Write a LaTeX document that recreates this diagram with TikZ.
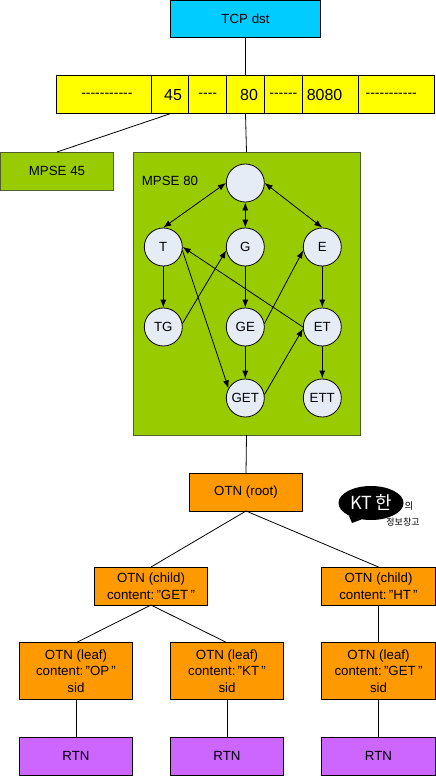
\documentclass[tikz,border=0pt]{standalone}
\usepackage{fontspec}
\setmainfont{Liberation Sans}
\newfontfamily\hyphenfont{Liberation Sans}
\newfontfamily\cjk{Noto Sans CJK KR}
\usepackage{xcolor}
\usetikzlibrary{shapes.geometric, arrows.meta, positioning, calc}
\definecolor{tcpblue}{HTML}{00CCFF}
\definecolor{portyellow}{HTML}{FFFF00}
\definecolor{mpsegreen}{HTML}{99CC00}
\definecolor{mpseline}{HTML}{4F5F30}
\definecolor{triefill}{HTML}{E6ECF6}
\definecolor{otnorange}{HTML}{FF9900}
\definecolor{rtnpurple}{HTML}{CC66FF}
\newcommand{\smalltext}{\fontsize{13.3pt}{16.6pt}\selectfont}
\newcommand{\porttext}{\fontsize{16pt}{18pt}\selectfont}
\newcommand{\dashtext}{\hyphenfont\fontsize{14pt}{18pt}\selectfont}
\tikzstyle{box} = [rectangle, draw=black, line width=1pt, outer sep=0pt, inner sep=0pt, text centered, align=center, font=\smalltext]
\tikzstyle{tcpbox} = [box, minimum width=150pt, minimum height=37.5pt, fill=tcpblue]
\tikzstyle{cell} = [box, minimum height=38pt, fill=portyellow, font=\porttext]
\tikzstyle{gap} = [cell, font=\dashtext, text height=6.4pt, text depth=0pt]
\tikzstyle{mpse} = [box, draw=mpseline, fill=mpsegreen]
\tikzstyle{otn} = [box, minimum width=113.5pt, minimum height=38pt, fill=otnorange]
\tikzstyle{leaf} = [otn, minimum height=56.5pt]
\tikzstyle{rtn} = [box, minimum width=113.5pt, minimum height=38pt, fill=rtnpurple]
\tikzstyle{trie} = [circle, minimum size=38pt, inner sep=0pt, draw=black, line width=0.8pt, fill=triefill, font=\smalltext]
\tikzstyle{arrow} = [line width=0.8pt,-{Latex[length=8pt,width=6pt]}]
\tikzstyle{both} = [line width=0.8pt,{Latex[length=8pt,width=6pt]}-{Latex[length=8pt,width=6pt]}]
\tikzstyle{link} = [line width=0.8pt]

\begin{document}
\begin{tikzpicture}[x=1pt, y=1pt, node distance=80pt]
\useasboundingbox (0,0) rectangle (436,-776);

\node (tcp) [tcpbox] at (245.5,-19) {TCP dst};

% port table, built outward from port 80
\node (port80) [cell, minimum width=37.7pt, below=38pt of tcp] {\hspace*{7pt}80};
\node (gapb) [gap, minimum width=37.7pt, left=0pt of port80] {----};
\node (port45) [cell, minimum width=37.7pt, left=0pt of gapb] {\hspace*{6pt}45};
\node (gapa) [gap, minimum width=94.7pt, left=0pt of port45] {\hspace*{6pt}-----------};
\node (gapc) [gap, minimum width=38pt, right=0pt of port80] {------};
\node (port8080) [cell, minimum width=56.4pt, right=0pt of gapc] {8080\hspace*{12pt}};
\node (gapd) [gap, minimum width=76pt, right=0pt of port8080] {-----------\hspace*{11pt}};

\node (mpse45) [mpse, minimum width=113.5pt, minimum height=38pt] at (57,-171) {MPSE 45};
\node (mpse80) [mpse, minimum width=227pt, minimum height=283pt] at (246.5,-293.5) {};
\node (mpselabel) at (170,-180.5) [font=\smalltext] {MPSE 80};

% trie inside MPSE 80
\node (root) [trie] at (245.3,-183) {};
\node (g) [trie, below of=root, yshift=16pt] {G};
\node (t) [trie, left of=g, xshift=-2pt] {T};
\node (e) [trie, right of=g, xshift=-3pt] {E};
\node (tg) [trie, below of=t] {TG};
\node (ge) [trie, below of=g] {GE};
\node (et) [trie, below of=e] {ET};
\node (get) [trie, below of=ge, yshift=9pt] {GET};
\node (ett) [trie, below of=et, yshift=9pt] {ETT};

\draw [both] (root.west) -- (t.north);
\draw [both] (root.south) -- (g.north);
\draw [both] (root.east) -- (e.north);
\draw [arrow] (t) -- (tg);
\draw [arrow] (g) -- (ge);
\draw [arrow, line width=1.2pt] (e) -- (et);
\draw [arrow] (ge) -- (get);
\draw [arrow, line width=1.2pt] (et) -- (ett);
\draw [arrow] (t.-10) -- (get.150);
\draw [arrow] (tg.10) -- (g.190);
\draw [arrow] (ge.10) -- (e.190);
\draw [arrow] (get.10) -- (et.185);
\draw [arrow] (et.west) -- (t.east);

% OTN tree
\node (otnroot) [otn] at (246,-492) {OTN (root)};
\node (childa) [otn] at (151,-586) {OTN (child)\\content:\,"GET\,"};
\node (childb) [otn] at (378.5,-586) {OTN (child)\\content:\,"HT\,"};
\node (leafa) [leaf] at (76,-671) {OTN (leaf)\\content:\,"OP\,"\\sid};
\node (leafb) [leaf, right of=leafa, xshift=71pt] {OTN (leaf)\\content:\,"KT\,"\\sid};
\node (leafc) [leaf, right of=leafb, xshift=71.5pt] {OTN (leaf)\\content:\,"GET\,"\\sid};
\node (rtna) [rtn, below of=leafa, yshift=-5pt] {RTN};
\node (rtnb) [rtn, below of=leafb, yshift=-5pt] {RTN};
\node (rtnc) [rtn, below of=leafc, yshift=-5pt] {RTN};

\draw [link, line width=1pt] (tcp) -- (port80);
\draw [link] (port45.south) -- (mpse45.north);
\draw [link] (port80.south) -- (mpse80.north);
\draw [link] (mpse80.south) -- (otnroot.north);
\draw [link] (otnroot.south) -- (childa.north);
\draw [link] (otnroot.south) -- (childb.north);
\draw [link] (childa.south) -- (leafa.north);
\draw [link] (childa.south) -- (leafb.north);
\draw [link] (childb) -- (leafc);
\draw [link] (leafa) -- (rtna);
\draw [link] (leafb) -- (rtnb);
\draw [link] (leafc) -- (rtnc);

% logo
\node (kt) [ellipse, fill=black, minimum width=65pt, minimum height=34pt, inner sep=0pt, text=white, font=\cjk\fontsize{18pt}{18pt}\selectfont] at (371,-503) {KT\,한};
\coordinate (kttail) at (352,-523);
\fill (kttail) -- (kt.-150) -- (kt.-120) -- cycle;
\node (ktuy) [font=\cjk\fontsize{9.5pt}{9.5pt}\selectfont] at (409,-506) {의};
\node (ktstore) [font=\cjk\fontsize{9pt}{9pt}\selectfont] at (403,-522) {정보창고};

\end{tikzpicture}
\end{document}
